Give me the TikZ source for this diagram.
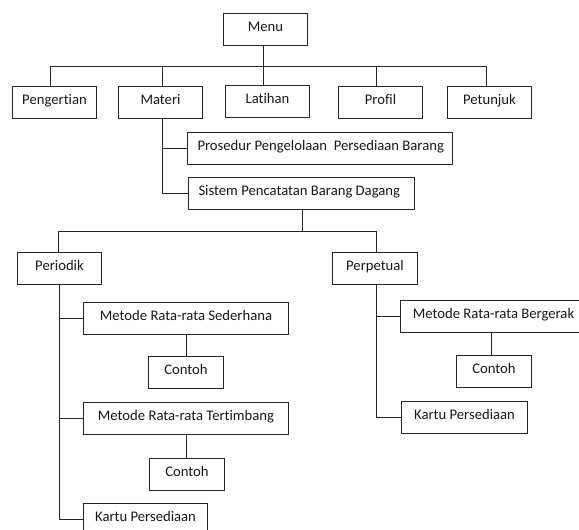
\documentclass[tikz,border=0pt]{standalone}
\usepackage{fontspec}
\setmainfont{Carlito}[Ligatures=CommonOff]
\begin{document}
\begin{tikzpicture}[x=1pt,y=-1pt,
  box/.style={draw=black!85, line width=1pt, fill=white, inner sep=0pt,
    minimum height=32pt, text height=11pt, text depth=7pt,
    font=\fontsize{14.67}{17}\selectfont, text=black!90},
  lbox/.style={box, inner xsep=10pt},
  link/.style={draw=black!85, line width=1pt}]
\useasboundingbox (0,0) rectangle (579,530);
\fill[white] (0,0) rectangle (579,530);
\clip (0,0) rectangle (579,530);

% nodes
\node[box, minimum width=84pt] (Menu) at (265.5,29.5) {Menu};
\node[box, minimum width=84pt] (Pengertian) at (54.5,102.5) {Pengertian};
\node[box, minimum width=84pt] (Materi) at (160.5,102.5) {Materi};
\node[box, minimum width=84pt] (Latihan) at (267.5,101.5) {Latihan};
\node[box, minimum width=84pt] (Profil) at (380.5,102.5) {Profil};
\node[box, minimum width=84pt] (Petunjuk) at (489.5,102.5) {Petunjuk};
\node[lbox] (Prosedur) at (320,148.5) {\makebox[245pt][l]{Prosedur Pengelolaan\ \ Persediaan Barang}};
\node[lbox] (Sistem) at (301.5,193.5) {\makebox[206pt][l]{Sistem Pencatatan Barang Dagang}};
\node[box, minimum width=84pt] (Periodik) at (59.5,268.5) {Periodik};
\node[box, minimum width=85pt] (Perpetual) at (375,268.5) {Perpetual};
\node[box, minimum width=205pt] (Sederhana) at (186,318.5) {Metode Rata-rata Sederhana};
\node[box, minimum width=75pt] (Contoh1) at (186,372.5) {Contoh};
\node[box, minimum width=205pt] (Tertimbang) at (186,418.5) {Metode Rata-rata Tertimbang};
\node[box, minimum width=75pt] (Contoh2) at (187,474.5) {Contoh};
\node[box, minimum width=124pt] (Kartu1) at (145.5,519.5) {Kartu Persediaan};
\node[box, minimum width=186pt] (Bergerak) at (493.5,316.5) {Metode Rata-rata Bergerak};
\node[box, minimum width=75pt] (Contoh3) at (494,371.5) {Contoh};
\node[box, minimum width=126pt] (Kartu2) at (464.5,417.5) {Kartu Persediaan};

% helper coordinates
\coordinate (bus) at (0,66.5);
\coordinate (bus2) at (0,231.5);
\coordinate (mB) at ([xshift=-2pt]Menu.south);
\coordinate (tPen) at ([xshift=-4pt]Pengertian.north);
\coordinate (tMat) at ([xshift=2pt]Materi.north);
\coordinate (tPro) at ([xshift=-4pt]Profil.north);
\coordinate (tPet) at ([xshift=-3pt]Petunjuk.north);
\coordinate (mS) at ([xshift=2pt]Materi.south);
\coordinate (sS) at ([xshift=1pt]Sistem.south);
\coordinate (tPer) at ([xshift=-1pt]Periodik.north);
\coordinate (tPp) at ([xshift=1.5pt]Perpetual.north);
\coordinate (pS) at ([xshift=1.5pt]Perpetual.south);
\coordinate (sdS) at ([xshift=0.5pt]Sederhana.south);
\coordinate (ttS) at ([xshift=0.5pt]Tertimbang.south);
\coordinate (bgS) at ([xshift=-2pt]Bergerak.south);

% connectors
\draw[link] (mB) -- (mB |- Latihan.north);
\draw[link] (tPen) -- (tPen |- bus) -- (tPet |- bus) -- (tPet);
\draw[link] (tMat) -- (tMat |- bus);
\draw[link] (tPro) -- (tPro |- bus);
\draw[link] (mS) |- (Prosedur.west);
\draw[link] (mS) |- (Sistem.west);
\draw[link] (sS) -- (sS |- bus2);
\draw[link] (tPer) -- (tPer |- bus2) -- (tPp |- bus2) -- (tPp);
\draw[link] (Periodik.south) |- (Sederhana.west);
\draw[link] (Periodik.south) |- (Tertimbang.west);
\draw[link] (Periodik.south) |- (Kartu1.west);
\draw[link] (sdS) -- (sdS |- Contoh1.north);
\draw[link] (ttS) -- (ttS |- Contoh2.north);
\draw[link] (pS) |- (Bergerak.west);
\draw[link] (pS) |- (Kartu2.west);
\draw[link] (bgS) -- (bgS |- Contoh3.north);
\end{tikzpicture}
\end{document}
